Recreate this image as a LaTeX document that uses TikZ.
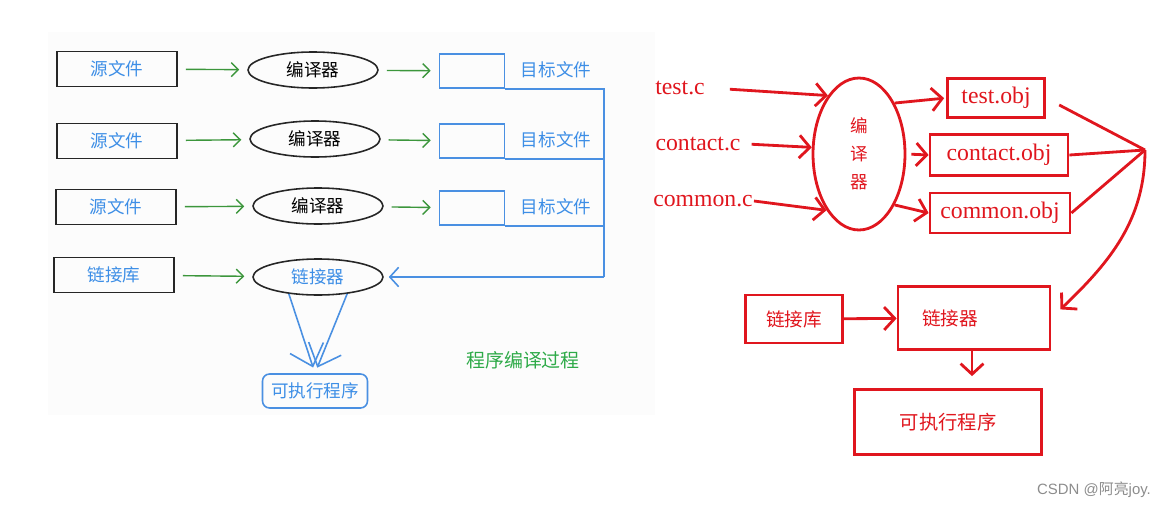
\documentclass[tikz,border=0pt]{standalone}
\usepackage{fontspec}
\setmainfont{Liberation Serif}
\setsansfont{Liberation Sans}
\newfontfamily\cjk{Noto Sans CJK SC}
\usetikzlibrary{arrows.meta,shapes.geometric}

\definecolor{srcblue}{HTML}{3D8EE6}
\definecolor{lineblue}{HTML}{4A90E2}
\definecolor{arrgreen}{HTML}{3C963C}
\definecolor{txtgreen}{HTML}{2EAA48}
\definecolor{penred}{HTML}{E0161E}

\begin{document}
\begin{tikzpicture}[x=0.02cm,y=-0.02cm,
  srcbox/.style={draw=black!85,line width=0.9pt,minimum width=2.4cm,minimum height=0.7cm,
    text=srcblue,font=\cjk\fontsize{10}{12}\selectfont},
  cmpell/.style={ellipse,draw=black!85,line width=0.9pt,minimum width=2.6cm,minimum height=0.72cm,
    inner sep=0pt,font=\cjk\fontsize{10}{12}\selectfont},
  objbox/.style={draw=lineblue,line width=0.9pt,minimum width=1.3cm,minimum height=0.68cm},
  bluetxt/.style={text=srcblue,font=\cjk\fontsize{10}{12}\selectfont},
  greenarr/.style={draw=arrgreen,line width=0.8pt,-{Straight Barb[length=4pt,width=8pt]},
    shorten <=0.16cm,shorten >=0.16cm},
  blueline/.style={draw=lineblue,line width=0.9pt},
  redbox/.style={draw=penred,line width=1.6pt,text=penred},
  redtxt/.style={text=penred,font=\fontsize{13.5}{15}\selectfont},
  redarr/.style={draw=penred,line width=1.6pt,-{Straight Barb[length=6pt,width=13pt]}},
  redline/.style={draw=penred,line width=1.6pt}
]

\useasboundingbox (0,0) rectangle (1166,507);
\fill[black!1] (48,32) rectangle (655,415);

% left: compile process
\node[srcbox] (src1) at (117,69) {源文件};
\node[srcbox] (src2) at (117,141) {源文件};
\node[srcbox] (src3) at (116,207) {源文件};
\node[srcbox] (lib) at (114,275) {链接库};

\node[cmpell] (cmp1) at (313,70) {编译器};
\node[cmpell] (cmp2) at (315,139) {编译器};
\node[cmpell] (cmp3) at (318,206) {编译器};
\node[cmpell,text=srcblue] (lnk) at (318,277) {链接器};

\node[objbox] (obj1) at (472,71) {};
\node[objbox] (obj2) at (472,141) {};
\node[objbox] (obj3) at (472,208) {};
\node[bluetxt] (tgt1) at (556,70) {目标文件};
\node[bluetxt] (tgt2) at (556,140) {目标文件};
\node[bluetxt] (tgt3) at (556,207) {目标文件};

\node[draw=lineblue,line width=0.9pt,rounded corners=4pt,minimum width=2.1cm,minimum height=0.68cm,
  bluetxt] (exe) at (315,391) {可执行程序};
\node[text=txtgreen,font=\cjk\fontsize{10.8}{13}\selectfont] (title) at (523,360) {程序编译过程};

\draw[greenarr] (src1) -- (cmp1);
\draw[greenarr] (src2) -- (cmp2);
\draw[greenarr] (src3) -- (cmp3);
\draw[greenarr] (lib) -- (lnk);
\draw[greenarr] (cmp1) -- (obj1);
\draw[greenarr] (cmp2) -- (obj2);
\draw[greenarr] (cmp3) -- (obj3);

\coordinate (bus) at (604,277);
\draw[blueline] (obj1.south east) -| (bus);
\draw[blueline] (obj2.south east) -- (obj2.south east -| bus);
\draw[blueline] (obj3.south east) -- (obj3.south east -| bus);
\draw[blueline,-{Straight Barb[length=5pt,width=11pt]},shorten >=0.1cm] (bus) -- (lnk.east);
\draw[blueline,-{Straight Barb[length=11pt,width=20pt]},shorten >=0.12cm] (lnk.210) -- (exe.north);
\draw[blueline,-{Straight Barb[length=11pt,width=20pt]},shorten >=0.12cm] (lnk.330) -- (exe.north);

% right: same with file names
\node[redtxt] (tc) at (680,88) {test.c};
\node[redtxt] (cc) at (698,144) {contact.c};
\node[redtxt] (mc) at (703,201) {common.c};

\node[redbox,ellipse,minimum width=1.84cm,minimum height=3.04cm,inner sep=0pt,align=center,
  font=\cjk\fontsize{10}{16}\selectfont] (cmp) at (859,154) {编\\译\\器};

\node[redbox,redtxt,minimum width=1.94cm,minimum height=0.78cm] (tobj) at (996,98) {test.obj};
\node[redbox,redtxt,minimum width=2.76cm,minimum height=0.82cm] (cobj) at (999,155) {contact.obj};
\node[redbox,redtxt,minimum width=2.8cm,minimum height=0.8cm] (mobj) at (1000,213) {common.obj};

\node[redbox,minimum width=1.94cm,minimum height=0.96cm,font=\cjk\fontsize{10.6}{13}\selectfont]
  (lib2) at (794,319) {链接库};
\node[redbox,text width=2.08cm,inner xsep=0.48cm,align=left,minimum height=1.26cm,
  font=\cjk\fontsize{10.6}{13}\selectfont] (lnk2) at (974,318) {链接器};
\node[redbox,minimum width=3.74cm,minimum height=1.3cm,font=\cjk\fontsize{11}{13}\selectfont]
  (exe2) at (948,422) {可执行程序};

\draw[redarr,shorten <=0.38cm] (tc.east) -- (cmp.118);
\draw[redarr,shorten <=0.1cm] (cc.east) -- (cmp.172);
\draw[redarr] ([xshift=-0.1cm]mc.east) -- (cmp.240);
\draw[redarr,shorten >=0.04cm] (cmp.55) -- (tobj.west);
\draw[redarr,shorten <=0.1cm] (cmp.east) -- (cobj.west);
\draw[redarr] (cmp.-55) -- (mobj.west);

\coordinate (hub) at (1145,150);
\draw[redline,shorten <=0.3cm] (tobj.east) -- (hub);
\draw[redline] (cobj.east) -- (hub);
\draw[redline] (mobj.east) -- (hub);
\draw[redarr,shorten >=0.25cm] (hub) .. controls (1145,220) and (1110,262) .. (lnk2.east);
\draw[redarr] (lib2) -- (lnk2);
\draw[redarr,shorten >=0.24cm] ([xshift=-0.04cm]lnk2.south) -- ([xshift=-0.04cm]lnk2.south |- exe2.north);

\node[text=black!45,font=\sffamily\fontsize{8.5}{10}\selectfont] (mark) at (1094,490)
  {CSDN @{\cjk 阿亮}joy.};

\end{tikzpicture}
\end{document}
